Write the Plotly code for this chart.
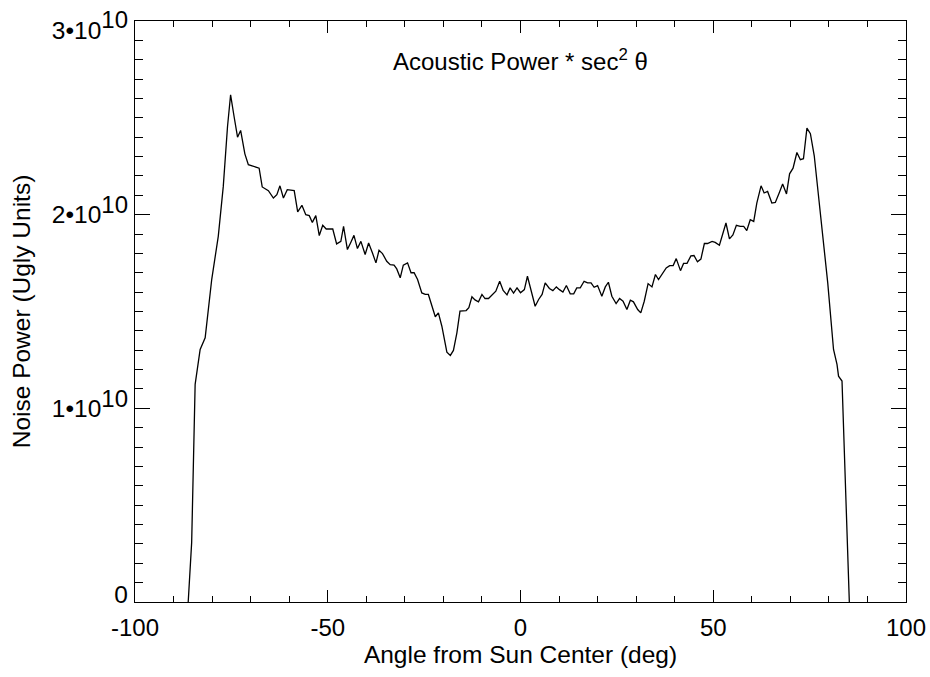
import plotly.graph_objects as go

# Angle from sun center (deg) and noise power (units of 1e10)
angle_deg = [
    -86.2, -85.3, -84.4, -83.1, -81.8, -80.1, -78.4, -77.1, -76.0, -75.2,
    -74.3, -73.4, -72.6, -71.5, -70.6, -69.7, -68.8, -67.8, -67.0, -66.2,
    -65.4, -64.1, -63.2, -62.4, -61.5, -60.5, -59.6, -58.7, -57.8, -56.7,
    -55.7, -54.8, -54.0, -53.1, -52.2, -51.3, -50.4, -49.5, -48.7, -47.7,
    -46.6, -45.9, -44.9, -44.0, -43.2, -42.3, -41.4, -40.3, -39.4, -38.4,
    -37.5, -36.7, -35.8, -34.7, -33.8, -32.8, -32.1, -31.2, -30.4, -29.3,
    -28.4, -27.6, -26.7, -25.6, -24.7, -23.9, -23.0, -22.1, -21.3, -20.4,
    -19.1, -18.2, -17.4, -16.5, -15.7, -14.9, -14.1, -13.4, -12.6, -11.8,
    -10.9, -10.0, -9.2, -8.3, -7.4, -6.4, -5.4, -4.5, -3.5, -2.7,
    -1.8, -0.9, 0.0, 1.0, 1.8, 2.8, 3.8, 4.7, 5.6, 6.4,
    7.5, 8.4, 9.3, 10.1, 11.0, 11.9, 12.9, 13.8, 14.6, 15.5,
    16.5, 17.4, 18.3, 19.1, 20.0, 21.1, 22.0, 22.8, 23.7, 24.8,
    25.7, 26.6, 27.6, 28.5, 29.3, 30.4, 31.2, 32.1, 33.1, 34.1,
    35.0, 35.8, 36.7, 37.8, 38.7, 39.6, 40.4, 41.5, 42.3, 43.2,
    44.2, 45.0, 45.9, 46.8, 47.7, 48.5, 49.7, 50.5, 51.6, 52.4,
    53.3, 54.2, 55.1, 56.0, 57.0, 57.9, 58.7, 59.6, 60.5, 61.3,
    62.4, 63.2, 64.1, 65.2, 66.1, 67.1, 68.0, 69.0, 69.8, 70.7,
    71.7, 72.6, 73.4, 74.3, 75.2, 76.2, 77.8, 79.7, 81.2, 82.1,
    82.5, 83.4, 85.3,
]
noise_power_e10 = [
    0.0, 0.308, 1.124, 1.304, 1.364, 1.665, 1.888, 2.146, 2.455, 2.619,
    2.507, 2.400, 2.435, 2.314, 2.258, 2.252, 2.246, 2.240, 2.143, 2.133,
    2.124, 2.086, 2.103, 2.149, 2.086, 2.129, 2.125, 2.124, 2.014, 2.048,
    2.000, 1.995, 1.960, 1.995, 1.892, 1.945, 1.926, 1.926, 1.926, 1.849,
    1.862, 1.940, 1.820, 1.858, 1.893, 1.825, 1.862, 1.794, 1.854, 1.802,
    1.751, 1.816, 1.799, 1.759, 1.742, 1.739, 1.720, 1.674, 1.739, 1.751,
    1.700, 1.700, 1.665, 1.596, 1.588, 1.588, 1.536, 1.473, 1.493, 1.424,
    1.290, 1.273, 1.299, 1.390, 1.502, 1.503, 1.505, 1.520, 1.576, 1.560,
    1.550, 1.588, 1.567, 1.567, 1.584, 1.605, 1.656, 1.609, 1.586, 1.622,
    1.595, 1.622, 1.597, 1.613, 1.682, 1.605, 1.527, 1.562, 1.588, 1.648,
    1.619, 1.608, 1.627, 1.613, 1.600, 1.634, 1.591, 1.591, 1.622, 1.622,
    1.656, 1.648, 1.648, 1.625, 1.634, 1.579, 1.627, 1.651, 1.579, 1.541,
    1.567, 1.553, 1.510, 1.558, 1.550, 1.510, 1.493, 1.553, 1.644, 1.627,
    1.691, 1.665, 1.691, 1.725, 1.737, 1.737, 1.773, 1.711, 1.748, 1.749,
    1.787, 1.789, 1.757, 1.771, 1.851, 1.851, 1.862, 1.857, 1.842, 1.902,
    1.957, 1.875, 1.895, 1.945, 1.940, 1.940, 1.918, 1.974, 1.965, 2.060,
    2.149, 2.112, 2.120, 2.060, 2.063, 2.112, 2.158, 2.107, 2.211, 2.240,
    2.321, 2.284, 2.289, 2.447, 2.418, 2.304, 2.009, 1.648, 1.304, 1.227,
    1.166, 1.141, 0.0,
]
power_scale = 1e10

x_tick_vals = [-100, -50, 0, 50, 100]
x_tick_text = ["-100", "-50", "0", "50", "100"]
y_tick_vals = [0, 1e10, 2e10, 3e10]
sup10 = "<sup><span style='font-size:24px'>10</span></sup>"
y_tick_text = ["0", "1•10" + sup10, "2•10" + sup10, "3•10" + sup10]

FONT = "Liberation Sans, Arial, Helvetica, sans-serif"
Y_RANGE = [0, 3e10]

fig = go.Figure()
fig.add_trace(go.Scatter(
    x=angle_deg,
    y=[v * power_scale for v in noise_power_e10],
    mode="lines",
    line=dict(color="black", width=1.3),
    showlegend=False,
    hoverinfo="skip",
))
# empty trace so the label-only overlay axis is rendered
fig.add_trace(go.Scatter(x=[None], y=[None], yaxis="y2", mode="lines",
                         showlegend=False, hoverinfo="skip"))

# IDL-style label placement: end labels are nudged inside the axis span
px_per_unit = 581 / (Y_RANGE[1] - Y_RANGE[0])
label_offsets_px = [8, 0, 0, -9]
y_label_pos = [v + o / px_per_unit for v, o in zip(y_tick_vals, label_offsets_px)]

fig.update_layout(
    width=930, height=677,
    margin=dict(l=135, r=24, t=21, b=75),
    paper_bgcolor="white", plot_bgcolor="white",
    font=dict(family=FONT, size=24, color="black"),
    xaxis=dict(
        range=[-100, 100], automargin=False,
        tickvals=x_tick_vals, ticktext=x_tick_text,
        ticks="inside", ticklen=12, tickwidth=1, tickcolor="black",
        minor=dict(ticks="inside", ticklen=6, dtick=10, tick0=0,
                   tickcolor="black", tickwidth=1, showgrid=False),
        showline=True, linecolor="black", linewidth=1, mirror="ticks",
        showgrid=False, zeroline=False,
        ticklabelstandoff=4,
        tickfont=dict(size=24),
        title=dict(text="Angle from Sun Center (deg)", font=dict(size=24.5), standoff=0),
    ),
    yaxis=dict(
        range=Y_RANGE, automargin=False,
        tickvals=y_tick_vals, showticklabels=False,
        ticks="inside", ticklen=15, tickwidth=1, tickcolor="black",
        minor=dict(ticks="inside", ticklen=8, dtick=1e9, tick0=0,
                   tickcolor="black", tickwidth=1, showgrid=False),
        showline=True, linecolor="black", linewidth=1, mirror="ticks",
        showgrid=False, zeroline=False,
    ),
    yaxis2=dict(
        range=Y_RANGE, overlaying="y", side="left", anchor="x", automargin=False,
        tickvals=y_label_pos, ticktext=y_tick_text,
        ticks="", showline=False, showgrid=False, zeroline=False,
        ticklabelstandoff=6, ticklabeloverflow="allow",
        tickfont=dict(size=24.5),
        title=dict(text="Noise Power (Ugly Units)", font=dict(size=24.5), standoff=14),
    ),
)

fig.add_annotation(
    x=0.5, y=0.933, xref="paper", yref="paper",
    text="Acoustic Power * sec<sup>2</sup> θ",
    showarrow=False, xanchor="center", yanchor="middle",
    font=dict(family=FONT, size=24, color="black"),
)

fig.write_html("out.html")
